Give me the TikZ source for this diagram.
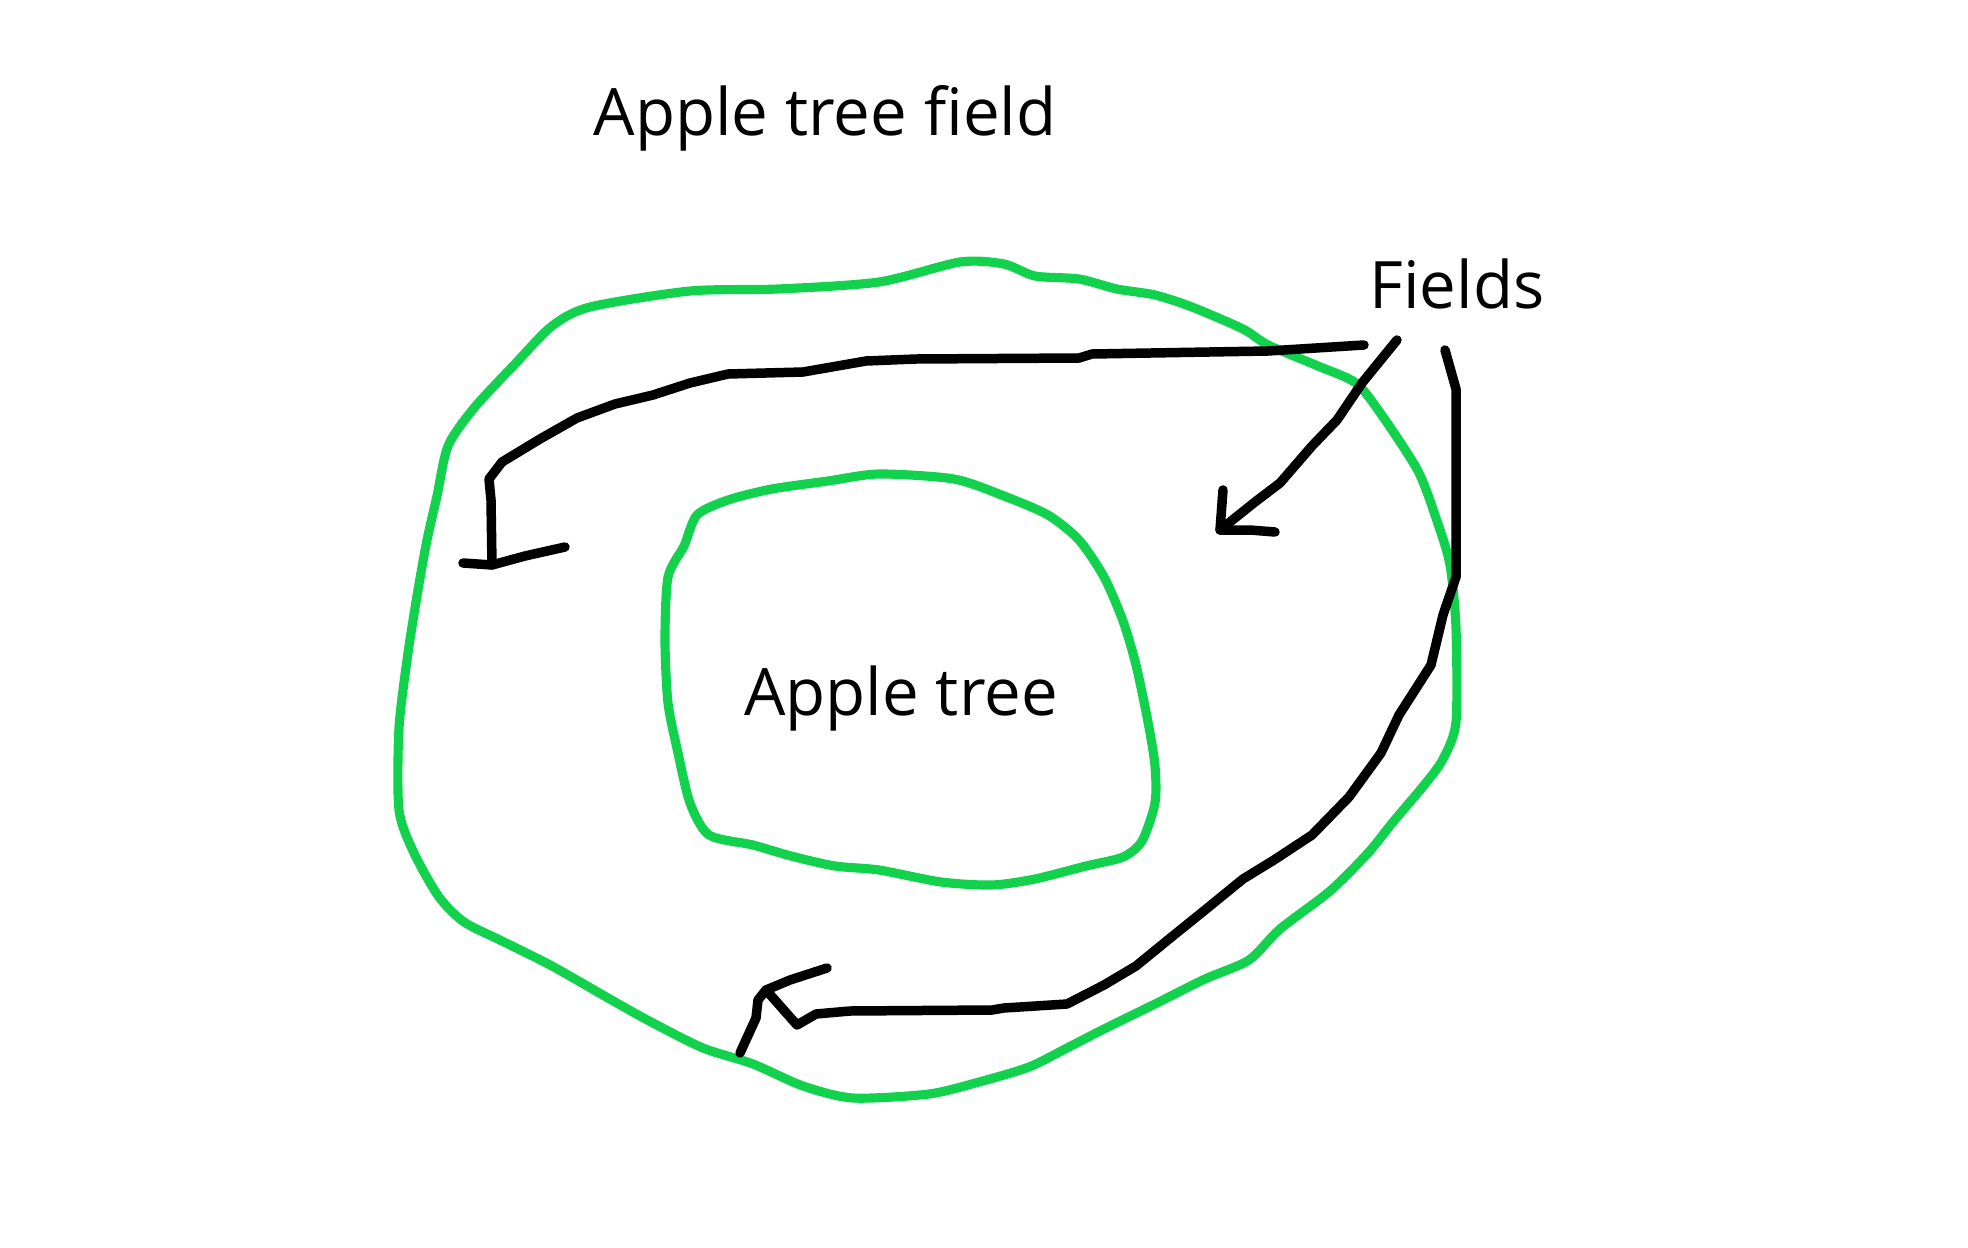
\documentclass[tikz,border=0pt]{standalone}
\usepackage{fontspec}
\setmainfont{Open Sans}
\definecolor{fieldgreen}{RGB}{18,209,77}
\tikzset{
  greenline/.style={draw=fieldgreen, line width=2.6pt, line join=round, line cap=round},
  blackline/.style={draw=black, line width=2.7pt, line join=round, line cap=round},
  lbl/.style={anchor=base, inner sep=0pt, font=\fontsize{18.6}{20}\selectfont}
}
\begin{document}
\begin{tikzpicture}[x=0.01cm, y=-0.01cm]
\useasboundingbox (0,0) rectangle (1968,1248);
% outer field
\draw[greenline] plot[smooth cycle, tension=0.45] coordinates {
(960,262) (1004,264) (1035,276) (1079,279) (1117,289) (1155,295) (1192,307)
(1243,329) (1268,345) (1318,366) (1356,383) (1381,414) (1418,471) (1437,521)
(1450,565) (1456,628) (1456,722) (1443,759) (1425,784) (1393,822) (1368,853)
(1330,891) (1280,929) (1249,960) (1205,979) (1155,1004) (1104,1029) (1067,1048)
(1029,1067) (979,1082) (929,1094) (853,1098) (803,1086) (753,1064) (703,1048)
(653,1023) (615,1002) (552,966) (502,941) (464,922) (439,897) (414,853)
(399,810) (399,728) (408,653) (418,590) (427,540) (437,496) (448,446)
(474,408) (515,364) (552,326) (590,307) (690,291) (778,289) (879,282)};
% inner tree
\draw[greenline] plot[smooth cycle, tension=0.45] coordinates {
(879,474) (954,479) (1004,496) (1048,515) (1079,540) (1104,577) (1123,621)
(1136,665) (1148,722) (1155,766) (1155,803) (1142,841) (1123,857) (1086,866)
(1035,879) (992,885) (941,882) (879,870) (835,866) (791,856) (753,845)
(709,835) (690,803) (678,753) (668,703) (665,640) (668,577) (684,546)
(697,515) (728,500) (772,489) (828,481)};
% labels
\node[lbl] (title) at (825,135) {Apple tree field};
\node[lbl] (fields) at (1457,308) {Fields};
\node[lbl] (tree) at (901,715) {Apple tree};
% arrow 1
\coordinate (a1s) at (1364,345);
\coordinate (a1t) at (492,565);
\draw[blackline] (a1s) -- (1268,351) -- (1092,354) -- (1079,358) -- (916,359)
  -- (866,361) -- (803,372) -- (728,374) -- (690,383) -- (653,395) -- (615,404)
  -- (577,418) -- (540,439) -- (502,462) -- (489,479) -- (491,500) -- (a1t);
\draw[blackline] (463,563) -- (a1t) -- (525,556) -- (565,547);
% arrow 2
\coordinate (a2s) at (1397,340);
\coordinate (a2t) at (1220,530);
\draw[blackline] (a2s) -- (1362,383) -- (1337,420) -- (1312,446) -- (1280,483)
  -- (1255,502) -- (a2t);
\draw[blackline] (1223,490) -- (a2t) -- (1250,530) -- (1275,532);
% arrow 3
\coordinate (a3s) at (1445,350);
\coordinate (a3t) at (766,990);
\draw[blackline] (a3s) -- (1456,389) -- (1456,577) -- (1443,615) -- (1431,665)
  -- (1399,715) -- (1381,753) -- (1349,797) -- (1312,835) -- (1274,860)
  -- (1243,879) -- (1205,910) -- (1174,935) -- (1136,966) -- (1104,985)
  -- (1067,1004) -- (1004,1008) -- (992,1010) -- (850,1011) -- (816,1014)
  -- (797,1025) -- (a3t);
\draw[blackline] (827,968) -- (790,980) -- (a3t) -- (758,1000) -- (756,1018) -- (740,1053);
\end{tikzpicture}
\end{document}
